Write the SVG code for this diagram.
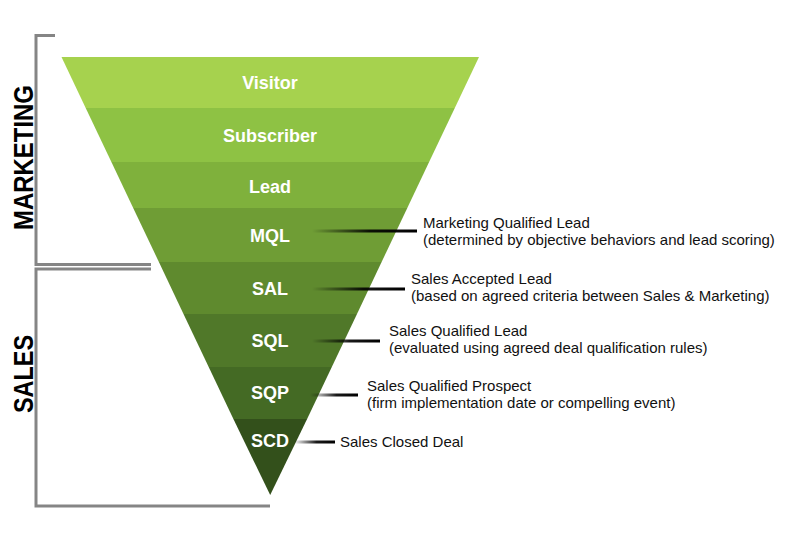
<svg xmlns="http://www.w3.org/2000/svg" width="802" height="540" viewBox="0 0 802 540">
<style>
.br{fill:none;stroke:#858585;stroke-width:3}
.side{font-family:"Liberation Sans",Arial,sans-serif;font-weight:bold;font-size:28px;fill:#000}
.lbl{font-family:"Liberation Sans",Arial,sans-serif;font-weight:bold;font-size:18px;fill:#fff;text-anchor:middle}
.desc{font-family:"Liberation Sans",Arial,sans-serif;font-size:15px;fill:#111}
</style>
<defs>
<linearGradient id="fade" x1="0" y1="0" x2="1" y2="0">
<stop offset="0" stop-color="#000" stop-opacity="0"/>
<stop offset="0.55" stop-color="#000" stop-opacity="0.9"/>
<stop offset="1" stop-color="#000" stop-opacity="1"/>
</linearGradient>
</defs>
<rect width="802" height="540" fill="#fff"/>
<g id="brackets">
<path class="br" d="M55,35.5 H36 V264.5 H151"/>
<path class="br" d="M151,269 H36 V506 H270"/>
<text class="side" transform="translate(33,157.5) rotate(-90)" text-anchor="middle" textLength="145" lengthAdjust="spacingAndGlyphs">MARKETING</text>
<text class="side" transform="translate(33,374) rotate(-90)" text-anchor="middle" textLength="78" lengthAdjust="spacingAndGlyphs">SALES</text>
</g>
<g id="visitor"><polygon points="61.5,57 479,57 454.8,108 85.7,108" fill="#a6d24e"/><text class="lbl" x="270" y="89">Visitor</text></g>
<g id="subscriber"><polygon points="85.7,108 454.8,108 429.1,162 111.4,162" fill="#8ec244"/><text class="lbl" x="270" y="142">Subscriber</text></g>
<g id="lead"><polygon points="111.4,162 429.1,162 407.3,208 133.2,208" fill="#7fb13c"/><text class="lbl" x="270" y="193">Lead</text></g>
<g id="mql"><polygon points="133.2,208 407.3,208 381.6,262 158.9,262" fill="#6f9d35"/><text class="lbl" x="270" y="242">MQL</text></g>
<g id="sal"><polygon points="158.9,262 381.6,262 357,314 183.5,314" fill="#5f8a2e"/><text class="lbl" x="270" y="295">SAL</text></g>
<g id="sql"><polygon points="183.5,314 357,314 331.8,367 208.7,367" fill="#507829"/><text class="lbl" x="270" y="347">SQL</text></g>
<g id="sqp"><polygon points="208.7,367 331.8,367 307.1,419 233.4,419" fill="#446a24"/><text class="lbl" x="270" y="399">SQP</text></g>
<g id="scd"><polygon points="233.4,419 307.1,419 270.2,495" fill="#33501b"/><text class="lbl" x="270" y="447">SCD</text></g>
<g id="connectors">
<rect x="312" y="229.5" width="105" height="3" fill="url(#fade)"/>
<rect x="312" y="287.5" width="93" height="3" fill="url(#fade)"/>
<rect x="312" y="339.5" width="68" height="3" fill="url(#fade)"/>
<rect x="310" y="393.5" width="48" height="3" fill="url(#fade)"/>
<rect x="294" y="440.5" width="41" height="3" fill="url(#fade)"/>
</g>
<g id="descriptions">
<text class="desc" x="423" y="228">Marketing Qualified Lead<tspan x="423" dy="17">(determined by objective behaviors and lead scoring)</tspan></text>
<text class="desc" x="411" y="284">Sales Accepted Lead<tspan x="411" dy="17">(based on agreed criteria between Sales &amp; Marketing)</tspan></text>
<text class="desc" x="389" y="336">Sales Qualified Lead<tspan x="389" dy="17">(evaluated using agreed deal qualification rules)</tspan></text>
<text class="desc" x="367" y="391">Sales Qualified Prospect<tspan x="367" dy="17">(firm implementation date or compelling event)</tspan></text>
<text class="desc" x="340" y="447">Sales Closed Deal</text>
</g>
</svg>
